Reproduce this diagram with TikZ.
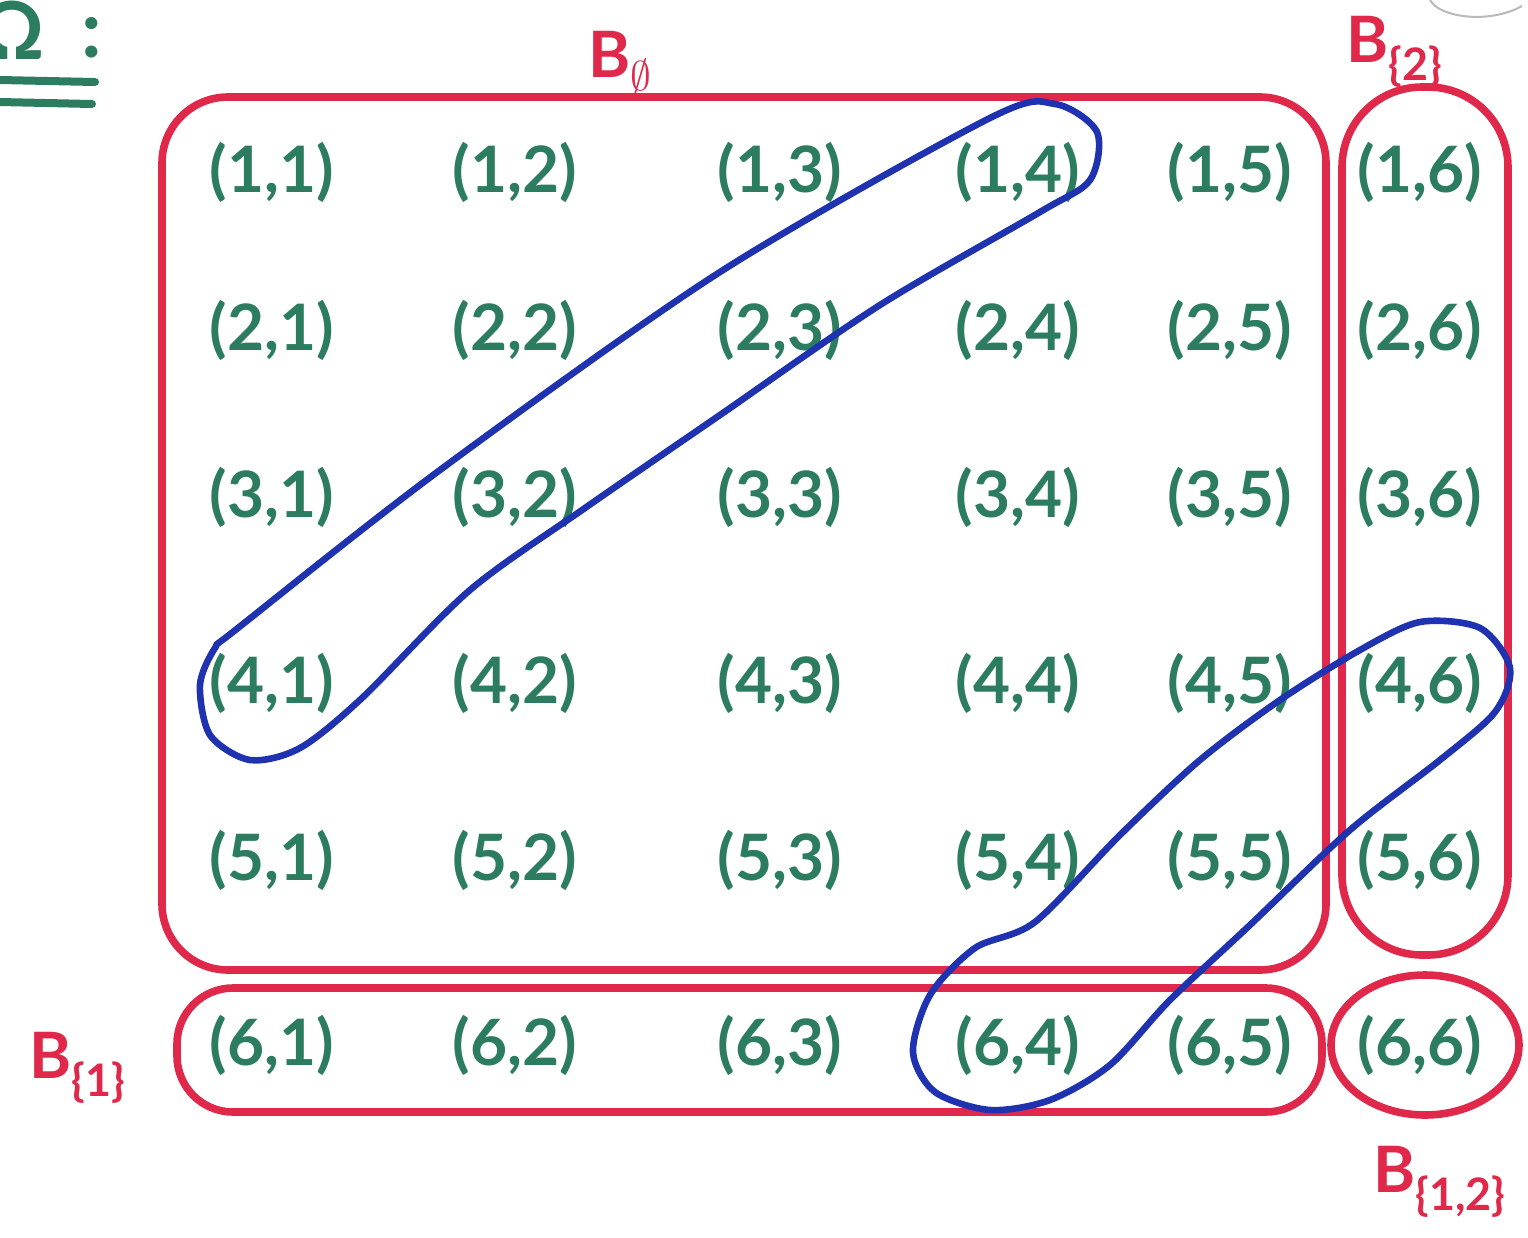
\documentclass[tikz,border=0pt]{standalone}
\usepackage{fontspec}
\setmainfont{Lato}
\definecolor{inkred}{HTML}{E0284A}
\definecolor{inkgreen}{HTML}{2C7D60}
\definecolor{inkblue}{HTML}{1F33B0}
\begin{document}
\begin{tikzpicture}[x=0.5pt,y=-0.5pt,
  cell/.style={text=inkgreen, font=\fontsize{32}{36}\selectfont\bfseries, inner sep=0pt},
  redbox/.style={draw=inkred, line width=3.8pt},
  blueloop/.style={draw=inkblue, line width=3.3pt},
  lab/.style={text=inkred, font=\fontsize{32}{36}\selectfont\bfseries, inner sep=0pt},
  greenmark/.style={draw=inkgreen, line width=4pt, line cap=round}]
\useasboundingbox (0,0) rectangle (1528,1238);

% header Omega (partly cut at the left edge, as in the reference)
\node[text=inkgreen, font=\fontsize{40}{44}\selectfont\bfseries, inner sep=0pt] (omega) at (12,30) {Ω};
\node[text=inkgreen, font=\fontsize{40}{44}\selectfont\bfseries, inner sep=0pt] (colon) at (92,38) {:};
\draw[greenmark] (0,80) -- (95,82);
\draw[greenmark] (0,102) -- (92,104);

% faint grey fragment top right
\draw[gray!55, line width=1pt] (1430,0) .. controls (1440,18) and (1490,24) .. (1522,6);

% cells
\foreach \r/\y in {1/172,2/330,3/497,4/683,5/860,6/1045}{
  \foreach \c/\x in {1/272,2/515,3/780,4/1018,5/1230,6/1420}{
    \node[cell] (c\r\c) at (\x,\y) {(\r,\c)};
  }
}

% red blocks
\draw[redbox, rounded corners=33pt] (162,97) rectangle (1326,970);
\draw[redbox, rounded corners=40pt] (1342,87) rectangle (1508,955);
\draw[redbox, rounded corners=28pt] (177,988) rectangle (1322,1112);
\draw[redbox] (1425,1045) ellipse [x radius=47pt, y radius=35pt];

% labels
\node[lab] (bempty) at (620,62) {B\textsubscript{$\emptyset$}};
\node[lab] (btwo) at (1395,52) {B\textsubscript{\{2\}}};
\node[lab] (bone) at (78,1068) {B\textsubscript{\{1\}}};
\node[lab] (bonetwo) at (1440,1182) {B\textsubscript{\{1,2\}}};

% blue loops
\draw[blueloop] plot[smooth cycle, tension=0.5] coordinates {
 (238,628) (440,470) (720,272) (990,118) (1055,104) (1097,132) (1090,180)
 (1040,212) (880,305) (720,415) (585,508) (470,590) (362,698)
 (300,748) (250,760) (210,735) (200,685) (215,648)};
\draw[blueloop] plot[smooth cycle, tension=0.5] coordinates {
 (1035,922) (1120,835) (1200,760) (1280,700) (1360,650) (1420,622) (1480,628)
 (1510,668) (1495,712) (1440,760) (1350,830) (1250,925) (1170,1000)
 (1110,1065) (1050,1100) (990,1110) (935,1092) (913,1052) (930,995) (975,948)};
\end{tikzpicture}
\end{document}
